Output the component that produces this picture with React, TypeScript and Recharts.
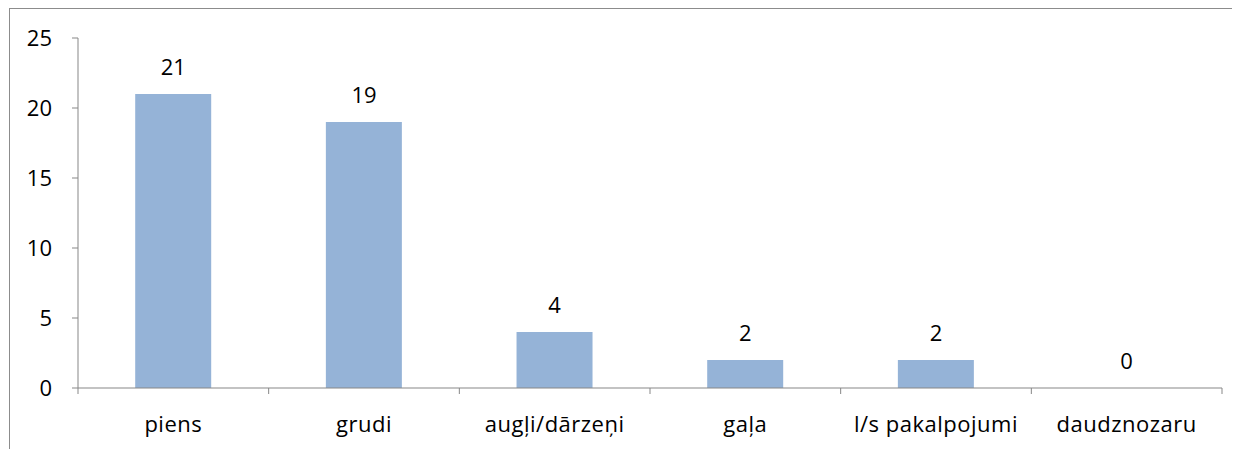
import React from "react";
import { ComposedChart, Bar, Line, XAxis, YAxis, LabelList } from "recharts";

const categories = ["piens", "grudi", "augļi/dārzeņi", "gaļa", "l/s pakalpojumi", "daudznozaru"];
const values = [21, 19, 4, 2, 2, 0];
const yTicks = [0, 5, 10, 15, 20, 25];

const data = categories.map((c, i) => ({ name: c, value: values[i] }));

const W = 1232;
const H = 441;
const M = { top: 30, right: 18, left: 0, bottom: 0 };
const Y_W = 70;
const HALF_BAND = (W - M.left - M.right - Y_W) / categories.length / 2;
const FONT = "'Open Sans', sans-serif";
const FS = 22;
const AXIS = "#878787";

const CatTick = (props: any) => {
  const { x, y, payload, index } = props;
  const half = payload && payload.offset ? payload.offset : HALF_BAND;
  const last = index === categories.length - 1;
  return (
    <g>
      <line x1={x - half} x2={x - half} y1={y} y2={y + 6} stroke={AXIS} strokeWidth={1} />
      {last && <line x1={x + half} x2={x + half} y1={y} y2={y + 6} stroke={AXIS} strokeWidth={1} />}
      <text
        x={x}
        y={y + 36}
        dy="0.35em"
        textAnchor="middle"
        fill="#000"
        fontSize={FS}
        fontFamily={FONT}
        letterSpacing={0.5}
      >
        {payload.value}
      </text>
    </g>
  );
};

export default function App() {
  return (
    <div style={{ position: "relative", width: W, height: H }}>
      <div
        style={{
          position: "absolute",
          left: 1,
          top: 0,
          width: 1400,
          height: 600,
          borderLeft: "1px solid #8c8c8c",
          borderTop: "1px solid #8c8c8c",
          boxSizing: "border-box",
        }}
      />
      <ComposedChart width={W} height={H} data={data} margin={M} barCategoryGap="30%">
        <XAxis
          dataKey="name"
          height={H - M.top - 350 - M.bottom}
          tickLine={false}
          tickSize={0}
          tickMargin={0}
          axisLine={{ stroke: AXIS }}
          tick={<CatTick />}
          interval={0}
        />
        <YAxis
          width={Y_W}
          domain={[0, 25]}
          ticks={yTicks}
          interval={0}
          axisLine={{ stroke: AXIS }}
          tickLine={{ stroke: AXIS }}
          tickSize={6}
          tickMargin={20}
          tick={{ fill: "#000", fontSize: FS, fontFamily: FONT }}
        />
        <Bar dataKey="value" fill="#95B3D7" isAnimationActive={false} />
        <Line
          dataKey="value"
          stroke="none"
          dot={false}
          activeDot={false}
          isAnimationActive={false}
          legendType="none"
        >
          <LabelList dataKey="value" position="top" offset={19} fill="#000" fontSize={FS} fontFamily={FONT} />
        </Line>
      </ComposedChart>
    </div>
  );
}
